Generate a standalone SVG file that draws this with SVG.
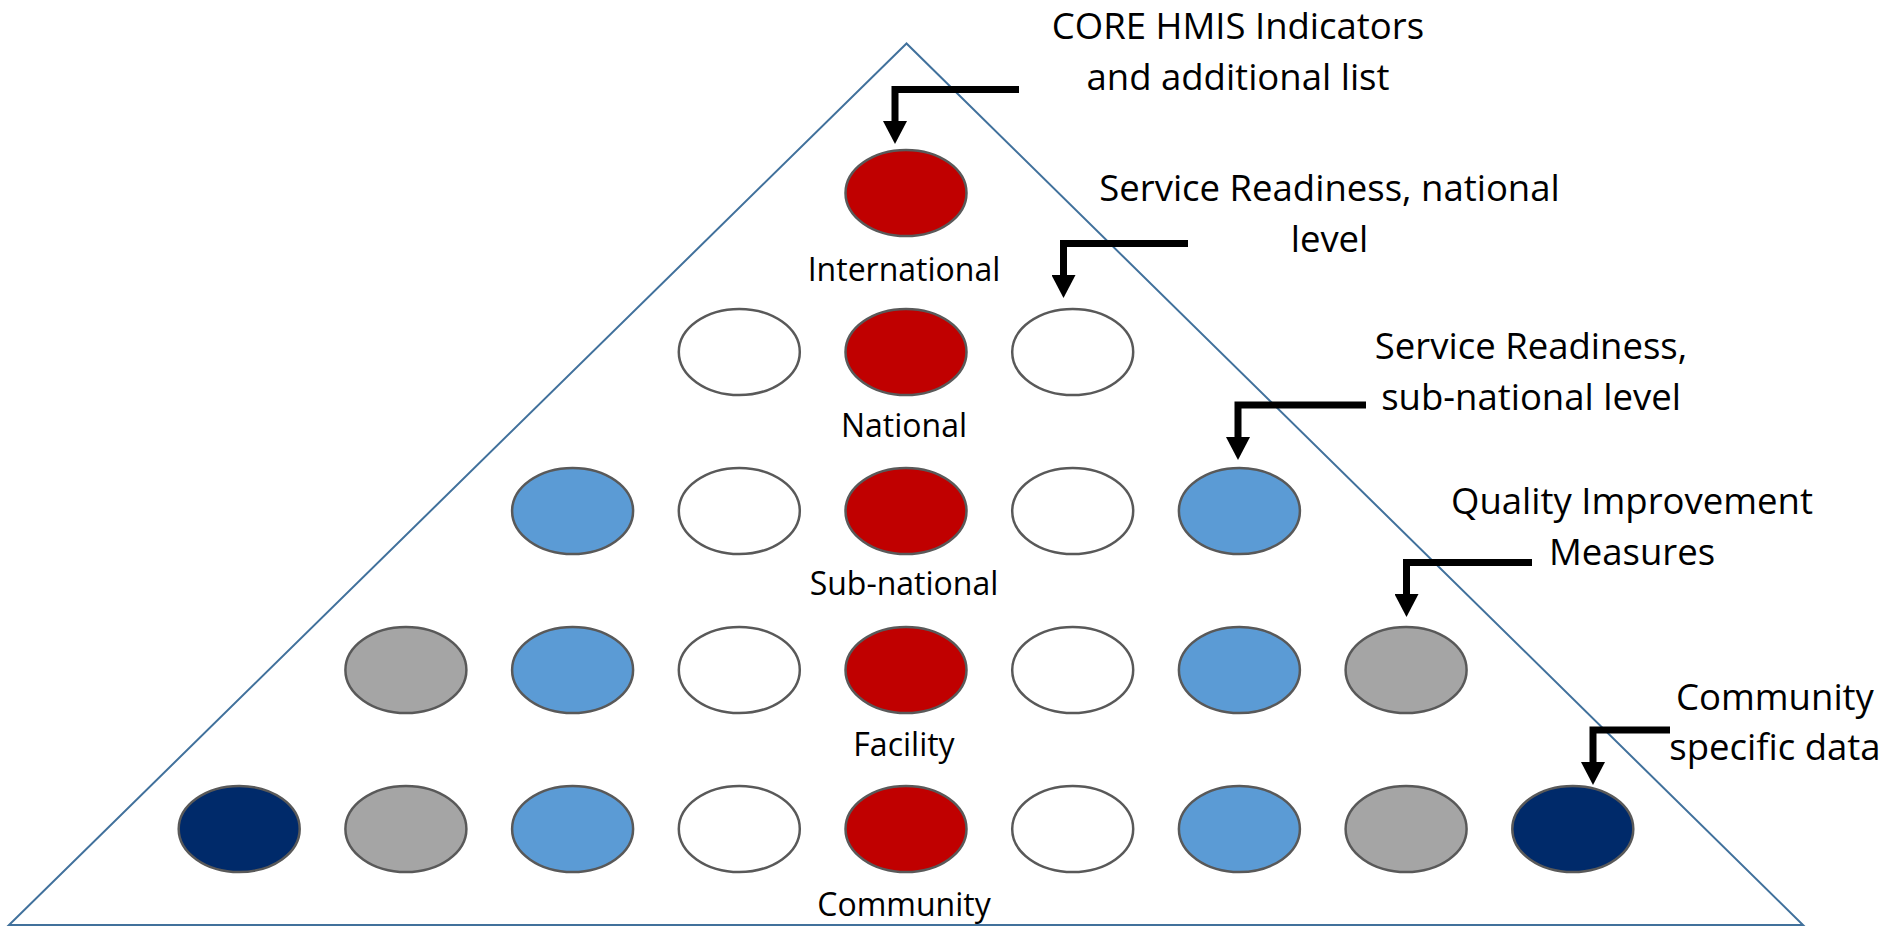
<svg xmlns="http://www.w3.org/2000/svg" width="1882" height="927" viewBox="0 0 1882 927">
  <style>
    .tri { fill: none; stroke: #41719C; stroke-width: 2; }
    .dot { stroke: #595959; stroke-width: 2.5; }
    .red { fill: #C00000; }
    .white { fill: #FFFFFF; }
    .blue { fill: #5B9BD5; }
    .gray { fill: #A5A5A5; }
    .navy { fill: #002A6A; }
    .lvl { font-family: "Open Sans", "Liberation Sans", sans-serif; font-size: 32px; fill: #000; text-anchor: middle; }
    .note { font-family: "Open Sans", "Liberation Sans", sans-serif; font-size: 36.5px; fill: #000; text-anchor: middle; }
    .elbow { fill: none; stroke: #000; stroke-width: 7; stroke-linejoin: miter; stroke-linecap: butt; marker-end: url(#head); }
  </style>
  <defs>
    <marker id="head" markerUnits="userSpaceOnUse" viewBox="0 0 23 24" markerWidth="23" markerHeight="24" refX="0" refY="12" orient="auto">
      <path d="M0,0 L23,12 L0,24 Z" fill="#000"/>
    </marker>
  </defs>

  <rect width="1882" height="927" fill="#FFFFFF"/>

  <!-- outline of the pyramid -->
  <polygon id="pyramid" class="tri" points="906.5,43.5 9,925 1803,925"/>

  <!-- level 1: International -->
  <g id="level-international">
    <ellipse class="dot red" cx="906" cy="193" rx="60.5" ry="43"/>
    <text class="lvl" x="904" y="280.5">International</text>
  </g>

  <!-- level 2: National -->
  <g id="level-national">
    <ellipse class="dot white" cx="739.3" cy="352" rx="60.5" ry="43"/>
    <ellipse class="dot red" cx="906" cy="352" rx="60.5" ry="43"/>
    <ellipse class="dot white" cx="1072.7" cy="352" rx="60.5" ry="43"/>
    <text class="lvl" x="904" y="436.5">National</text>
  </g>

  <!-- level 3: Sub-national -->
  <g id="level-subnational">
    <ellipse class="dot blue" cx="572.6" cy="511" rx="60.5" ry="43"/>
    <ellipse class="dot white" cx="739.3" cy="511" rx="60.5" ry="43"/>
    <ellipse class="dot red" cx="906" cy="511" rx="60.5" ry="43"/>
    <ellipse class="dot white" cx="1072.7" cy="511" rx="60.5" ry="43"/>
    <ellipse class="dot blue" cx="1239.4" cy="511" rx="60.5" ry="43"/>
    <text class="lvl" x="904" y="595">Sub-national</text>
  </g>

  <!-- level 4: Facility -->
  <g id="level-facility">
    <ellipse class="dot gray" cx="405.9" cy="670" rx="60.5" ry="43"/>
    <ellipse class="dot blue" cx="572.6" cy="670" rx="60.5" ry="43"/>
    <ellipse class="dot white" cx="739.3" cy="670" rx="60.5" ry="43"/>
    <ellipse class="dot red" cx="906" cy="670" rx="60.5" ry="43"/>
    <ellipse class="dot white" cx="1072.7" cy="670" rx="60.5" ry="43"/>
    <ellipse class="dot blue" cx="1239.4" cy="670" rx="60.5" ry="43"/>
    <ellipse class="dot gray" cx="1406.1" cy="670" rx="60.5" ry="43"/>
    <text class="lvl" x="904" y="756">Facility</text>
  </g>

  <!-- level 5: Community -->
  <g id="level-community">
    <ellipse class="dot navy" cx="239.2" cy="829" rx="60.5" ry="43"/>
    <ellipse class="dot gray" cx="405.9" cy="829" rx="60.5" ry="43"/>
    <ellipse class="dot blue" cx="572.6" cy="829" rx="60.5" ry="43"/>
    <ellipse class="dot white" cx="739.3" cy="829" rx="60.5" ry="43"/>
    <ellipse class="dot red" cx="906" cy="829" rx="60.5" ry="43"/>
    <ellipse class="dot white" cx="1072.7" cy="829" rx="60.5" ry="43"/>
    <ellipse class="dot blue" cx="1239.4" cy="829" rx="60.5" ry="43"/>
    <ellipse class="dot gray" cx="1406.1" cy="829" rx="60.5" ry="43"/>
    <ellipse class="dot navy" cx="1572.8" cy="829" rx="60.5" ry="43"/>
    <text class="lvl" x="904" y="916">Community</text>
  </g>

  <!-- callout texts -->
  <g id="note-core">
    <text class="note" x="1238" y="38.5">CORE HMIS Indicators</text>
    <text class="note" x="1238" y="89.5">and additional list</text>
  </g>
  <g id="note-readiness-national">
    <text class="note" x="1329.5" y="200.5">Service Readiness, national</text>
    <text class="note" x="1329.5" y="251.5">level</text>
  </g>
  <g id="note-readiness-subnational">
    <text class="note" x="1531" y="358.5">Service Readiness,</text>
    <text class="note" x="1531" y="409.5">sub-national level</text>
  </g>
  <g id="note-quality">
    <text class="note" x="1632" y="513.5">Quality Improvement</text>
    <text class="note" x="1632" y="565">Measures</text>
  </g>
  <g id="note-community">
    <text class="note" x="1775" y="709.5">Community</text>
    <text class="note" x="1775" y="760">specific data</text>
  </g>

  <!-- elbow connectors from each callout down to its ellipse -->
  <g id="connectors">
    <path class="elbow" d="M1019,89.5 H895 V121"/>
    <path class="elbow" d="M1188,243.5 H1063.5 V275"/>
    <path class="elbow" d="M1366,405 H1238 V437"/>
    <path class="elbow" d="M1532,562.5 H1406.5 V594"/>
    <path class="elbow" d="M1670,730 H1593 V762"/>
  </g>
</svg>
